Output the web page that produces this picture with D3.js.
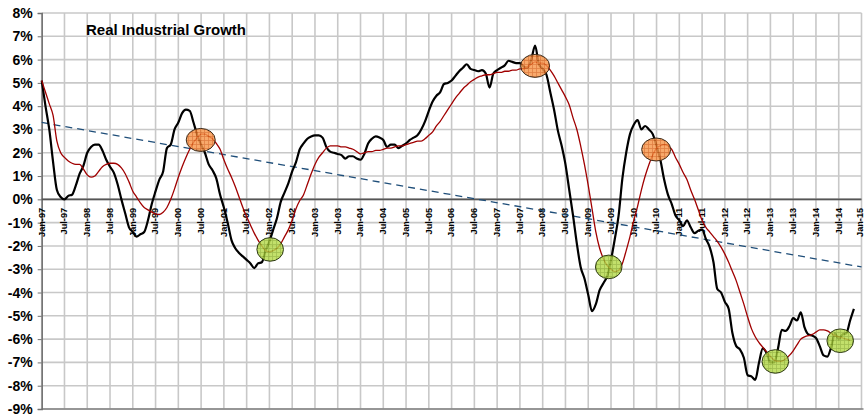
<!DOCTYPE html>
<html><head><meta charset="utf-8">
<script src="https://cdn.jsdelivr.net/npm/d3@7"></script>
<style>
html,body{margin:0;padding:0;background:#fff;}
text{font-family:"Liberation Sans",Arial,sans-serif;font-weight:bold;}
</style></head>
<body><svg id="c" width="864" height="418"></svg>
<script>
// x tick labels every 6 months, Jan-97 .. Jan-15
const tickLabels = ["Jan-97","Jul-97","Jan-98","Jul-98","Jan-99","Jul-99","Jan-00","Jul-00","Jan-01","Jul-01","Jan-02","Jul-02","Jan-03","Jul-03","Jan-04","Jul-04","Jan-05","Jul-05","Jan-06","Jul-06","Jan-07","Jul-07","Jan-08","Jul-08","Jan-09","Jul-09","Jan-10","Jul-10","Jan-11","Jul-11","Jan-12","Jul-12","Jan-13","Jul-13","Jan-14","Jul-14","Jan-15"];
const yTicks = [8,7,6,5,4,3,2,1,0,-1,-2,-3,-4,-5,-6,-7,-8,-9];
// monthly real industrial growth (%), from Jan-97
const growth = [5.1,4.0,3.0,1.6,0.4,0.1,0.0,0.15,0.2,0.6,1.1,1.45,2.0,2.25,2.35,2.35,2.1,1.7,1.4,1.15,0.65,0.0,-0.6,-1.2,-1.4,-1.6,-1.5,-1.4,-0.9,-0.2,
0.35,0.85,1.2,2.2,2.35,3.0,3.3,3.7,3.85,3.8,3.3,2.75,2.35,2.0,1.5,1.25,0.9,0.2,-0.35,-1.0,-1.75,-2.1,-2.3,-2.45,-2.6,-2.75,-2.95,-2.75,-2.7,-2.2,
-1.8,-1.3,-0.8,-0.1,0.3,0.7,1.2,1.6,2.15,2.4,2.6,2.7,2.75,2.75,2.65,2.25,2.05,2.0,1.95,1.9,1.75,1.85,1.85,1.75,1.7,1.95,2.4,2.6,2.7,2.65,
2.55,2.25,2.35,2.35,2.2,2.3,2.4,2.55,2.65,2.75,3.0,3.35,3.8,4.2,4.45,4.6,4.95,5.0,5.1,5.3,5.5,5.65,5.8,5.6,5.55,5.5,5.55,5.4,4.8,5.4,
5.55,5.65,5.75,5.95,5.9,5.85,5.85,5.7,5.65,6.0,6.6,5.8,5.6,5.35,4.6,3.85,2.95,2.3,1.5,0.4,-0.7,-1.9,-2.9,-3.4,-4.1,-4.8,-4.5,-3.9,-3.6,-3.3,
-2.6,-1.7,-0.7,0.9,2.0,2.8,3.2,3.4,3.0,3.15,3.0,2.8,2.3,1.7,0.85,0.2,-0.2,-0.7,-0.9,-1.15,-0.9,-1.2,-1.45,-1.35,-1.3,-1.7,-2.05,-2.7,-3.85,-4.0,
-4.4,-4.7,-5.75,-6.3,-6.45,-6.8,-7.55,-7.6,-7.75,-7.0,-6.4,-6.6,-7.0,-7.0,-6.4,-5.6,-5.65,-5.45,-5.1,-5.2,-4.85,-5.5,-5.8,-5.85,-5.95,-6.3,-6.7,-6.75,-6.35,-5.75,
-6.0,-5.8,-5.75,-5.2,-4.7];
// smoothed growth (%), from Jan-97
const smoothed = [5.1,4.6,4.1,3.6,2.5,2.0,1.8,1.65,1.55,1.5,1.5,1.3,1.05,0.95,1.0,1.2,1.4,1.5,1.55,1.55,1.5,1.35,1.1,0.75,0.35,0.1,-0.15,-0.35,-0.45,-0.55,
-0.62,-0.65,-0.55,-0.35,0.0,0.45,0.95,1.4,1.8,2.15,2.45,2.65,2.8,2.8,2.7,2.6,2.4,2.15,1.7,1.3,0.95,0.55,0.1,-0.35,-0.75,-1.1,-1.45,-1.75,-2.0,-2.2,
-2.25,-2.2,-2.1,-1.9,-1.6,-1.3,-0.9,-0.4,-0.05,0.2,0.65,1.1,1.5,1.8,2.0,2.2,2.3,2.3,2.3,2.25,2.25,2.2,2.15,2.05,1.95,2.0,2.05,2.05,2.1,2.1,
2.15,2.2,2.2,2.25,2.3,2.3,2.35,2.4,2.45,2.5,2.5,2.6,2.75,2.9,3.15,3.35,3.6,3.85,4.1,4.35,4.55,4.75,4.9,5.05,5.15,5.25,5.3,5.35,5.35,5.4,
5.45,5.45,5.5,5.5,5.55,5.55,5.6,5.6,5.7,5.8,5.9,5.85,5.85,5.75,5.55,5.3,5.0,4.7,4.4,4.05,3.5,3.0,2.3,1.5,0.6,-0.4,-1.4,-2.1,-2.55,-2.85,
-3.0,-3.1,-3.05,-2.75,-2.2,-1.6,-0.9,-0.3,0.4,1.0,1.5,1.9,2.2,2.3,2.35,2.3,2.15,1.8,1.5,1.15,0.85,0.4,0.0,-0.45,-0.9,-1.2,-1.4,-1.6,-1.8,-2.05,
-2.35,-2.7,-3.1,-3.5,-4.0,-4.5,-5.05,-5.55,-5.9,-6.15,-6.35,-6.55,-6.75,-6.9,-6.95,-6.95,-6.85,-6.7,-6.5,-6.25,-6.0,-5.9,-5.85,-5.8,-5.7,-5.6,-5.6,-5.65,-5.75,-5.85,
-5.9,-5.95,-6.0,-6.05];
// linear trend: [month index, value]
const trendStart = [0, 3.3];
const trendEnd = [216, -2.9];
// turning points: [month index, value]
const peaks = [[41.9, 2.55],[130, 5.73],[161.9, 2.14]];
const troughs = [[60.2, -2.15],[149.4, -2.9],[193.3, -6.96],[210.4, -6.07]];
const title = "Real Industrial Growth";

const svg = d3.select("#c");
const L = 41.7, R = 861.5, T = 13, B = 409;
const x = d3.scaleLinear().domain([0, 216]).range([L, R]);
const y = d3.scaleLinear().domain([-9, 8]).range([B, T]);

// patterns
const defs = svg.append("defs");
function pat(id, fill, line){
  const p = defs.append("pattern").attr("id", id).attr("patternUnits","userSpaceOnUse").attr("width",4).attr("height",4);
  p.append("rect").attr("width",4).attr("height",4).attr("fill",fill);
  p.append("path").attr("d","M0,0.5H4M0.5,0V4").attr("stroke",line).attr("stroke-width",0.8);
}
pat("po","#F7964A","#D9631A");
pat("pg","#B5D94A","#8CB02A");

// gridlines
const g = svg.append("g");
g.selectAll(".hg").data(yTicks).join("line")
  .attr("x1", L).attr("x2", R).attr("y1", d=>y(d)).attr("y2", d=>y(d))
  .attr("stroke","#c8c8c8").attr("stroke-width",1.6);
g.selectAll(".vg").data(tickLabels).join("line")
  .attr("x1",(d,i)=>x(i*6)).attr("x2",(d,i)=>x(i*6)).attr("y1",T).attr("y2",B)
  .attr("stroke","#c8c8c8").attr("stroke-width",1.6);

// bottom border
svg.append("line").attr("x1",L).attr("x2",R+2).attr("y1",B).attr("y2",B).attr("stroke","#808080").attr("stroke-width",1.5);

// y axis
const yAxis = d3.axisLeft(y).tickValues(yTicks).tickSize(4).tickFormat(d=>d+"%");
const ya = svg.append("g").attr("transform",`translate(${L},0)`).call(yAxis);
ya.select(".domain").attr("stroke","#707070").attr("stroke-width",1.5);
ya.selectAll(".tick line").attr("stroke","#707070");
ya.selectAll("text").attr("font-size",14).attr("fill","#000").attr("x",-9).style("font-family","'Liberation Sans',Arial,sans-serif").style("font-weight","bold");

// zero line
svg.append("line").attr("x1",L).attr("x2",R).attr("y1",y(0)).attr("y2",y(0)).attr("stroke","#555").attr("stroke-width",1.6);

// x labels
svg.selectAll(".xl").data(tickLabels).join("text")
  .attr("transform",(d,i)=>`translate(${Math.min(x(i*6)+2.8, 863)},${y(0)+8.5}) rotate(-90)`)
  .attr("text-anchor","end").attr("font-size",9.2).attr("fill","#000").text(d=>d);

// trend
svg.append("line").attr("x1",x(trendStart[0])).attr("y1",y(trendStart[1]))
  .attr("x2",x(trendEnd[0])).attr("y2",y(trendEnd[1]))
  .attr("stroke","#1F4E79").attr("stroke-width",1.3).attr("stroke-dasharray","7,5");

// lines
const line = d3.line().x((d,i)=>x(i)).y(d=>y(d)).curve(d3.curveMonotoneX);
svg.append("path").attr("d", line(growth)).attr("fill","none").attr("stroke","#000").attr("stroke-width",2.2).attr("stroke-linejoin","round");
svg.append("path").attr("d", line(smoothed)).attr("fill","none").attr("stroke","#A00000").attr("stroke-width",1.3);

// markers
svg.selectAll(".pk").data(peaks).join("ellipse")
  .attr("cx",d=>x(d[0])).attr("cy",d=>y(d[1])).attr("rx",14.5).attr("ry",11.5)
  .attr("fill","url(#po)").attr("fill-opacity",0.82).attr("stroke","#3a2a1a").attr("stroke-width",1);
svg.selectAll(".tr").data(troughs).join("ellipse")
  .attr("cx",d=>x(d[0])).attr("cy",d=>y(d[1])).attr("rx",13.3).attr("ry",11.8)
  .attr("fill","url(#pg)").attr("fill-opacity",0.82).attr("stroke","#2e3a14").attr("stroke-width",1);

// title
svg.append("text").attr("x",86).attr("y",35).attr("font-size",15).attr("fill","#000").text(title);
</script></body></html>
